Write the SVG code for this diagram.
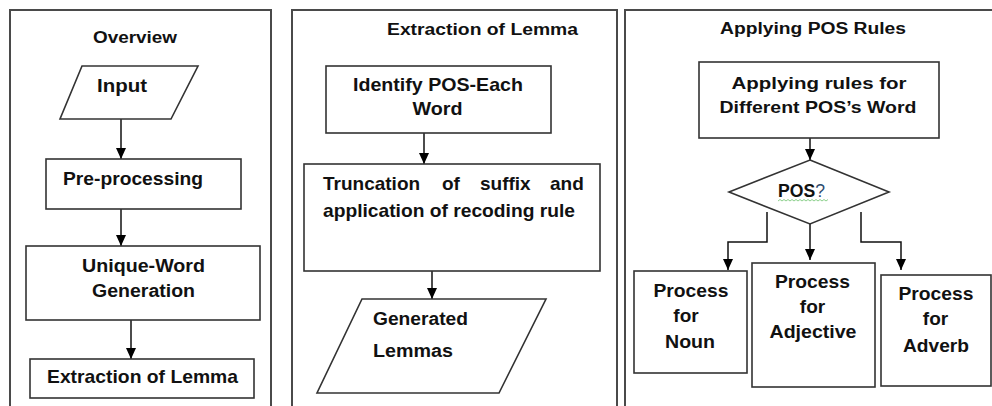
<svg xmlns="http://www.w3.org/2000/svg" width="992" height="406" viewBox="0 0 992 406">
<style>
  .frame{fill:none;stroke:#4a4a4a;stroke-width:2}
  .box{fill:#fff;stroke:#333;stroke-width:1.6}
  .t{font-family:"Liberation Sans",Arial,sans-serif;font-weight:bold;fill:#111;}
  .c{text-anchor:middle}
  .con{fill:none;stroke:#111;stroke-width:1.5}
</style>
<defs>
  <marker id="ah" markerUnits="userSpaceOnUse" markerWidth="12" markerHeight="12" refX="11" refY="5" orient="auto">
    <path d="M0,0 L11,5 L0,10 z" fill="#000"/>
  </marker>
</defs>
<rect width="992" height="406" fill="#fff"/>

<g id="panels">
  <path class="frame" d="M10,406 V10 H271 V406"/>
  <path class="frame" d="M292,406 V10 H617 V406"/>
  <path class="frame" d="M625,406 V10 H992"/>
  <text class="t c" x="135" y="43" font-size="17" textLength="84" lengthAdjust="spacingAndGlyphs">Overview</text>
  <text class="t c" x="482.5" y="35" font-size="16" textLength="191" lengthAdjust="spacingAndGlyphs">Extraction of Lemma</text>
  <text class="t c" x="813" y="34" font-size="16" textLength="186" lengthAdjust="spacingAndGlyphs">Applying POS Rules</text>
</g>

<g id="connectors">
  <path class="con" d="M121,119 V159" marker-end="url(#ah)"/>
  <path class="con" d="M121,209 V246" marker-end="url(#ah)"/>
  <path class="con" d="M131,320 V359" marker-end="url(#ah)"/>
  <path class="con" d="M424,133 V164" marker-end="url(#ah)"/>
  <path class="con" d="M432,271 V299" marker-end="url(#ah)"/>
  <path class="con" d="M810,138 V160" marker-end="url(#ah)"/>
  <path class="con" d="M767,212 V242 H728 V270" marker-end="url(#ah)"/>
  <path class="con" d="M810,224 V260" marker-end="url(#ah)"/>
  <path class="con" d="M861,212 V242 H901 V270" marker-end="url(#ah)"/>
</g>

<g id="input">
  <polygon class="box" points="82,66 198,66 171,119 60,119"/>
  <text class="t" x="97" y="92" font-size="19" textLength="50" lengthAdjust="spacingAndGlyphs">Input</text>
</g>
<g id="preprocessing">
  <rect class="box" x="46" y="159" width="195" height="50"/>
  <text class="t" x="63" y="185" font-size="19" textLength="140" lengthAdjust="spacingAndGlyphs">Pre-processing</text>
</g>
<g id="unique-word">
  <rect class="box" x="26" y="246" width="234" height="74"/>
  <text class="t c" x="143.5" y="272" font-size="18" textLength="123" lengthAdjust="spacingAndGlyphs">Unique-Word</text>
  <text class="t c" x="143.5" y="297" font-size="18" textLength="103" lengthAdjust="spacingAndGlyphs">Generation</text>
</g>
<g id="extraction">
  <rect class="box" x="30" y="359" width="224" height="39"/>
  <text class="t" x="47" y="383" font-size="19" textLength="191" lengthAdjust="spacingAndGlyphs">Extraction of Lemma</text>
</g>

<g id="identify-pos">
  <rect class="box" x="326" y="66" width="225" height="67"/>
  <text class="t c" x="438" y="91" font-size="19" textLength="170" lengthAdjust="spacingAndGlyphs">Identify POS-Each</text>
  <text class="t c" x="437.5" y="115" font-size="19" textLength="50" lengthAdjust="spacingAndGlyphs">Word</text>
</g>
<g id="truncation">
  <rect class="box" x="304" y="164" width="296" height="107"/>
  <text class="t" y="190" font-size="19"><tspan x="323">Truncation</tspan><tspan x="442">of</tspan><tspan x="480">suffix</tspan><tspan x="550">and</tspan></text>
  <text class="t" x="323" y="217" font-size="19" textLength="252" lengthAdjust="spacingAndGlyphs">application of recoding rule</text>
</g>
<g id="generated-lemmas">
  <polygon class="box" points="362,299 546,299 499,393 317,393"/>
  <text class="t" x="373" y="325" font-size="18" textLength="95" lengthAdjust="spacingAndGlyphs">Generated</text>
  <text class="t" x="373" y="357" font-size="18" textLength="80" lengthAdjust="spacingAndGlyphs">Lemmas</text>
</g>

<g id="applying-rules">
  <rect class="box" x="699" y="62" width="240" height="76"/>
  <text class="t c" x="819" y="89" font-size="17" textLength="175" lengthAdjust="spacingAndGlyphs">Applying rules for</text>
  <text class="t c" x="818" y="113" font-size="17" textLength="197" lengthAdjust="spacingAndGlyphs">Different POS’s Word</text>
</g>
<g id="pos-decision">
  <polygon class="box" points="810,160 889,192 810,224 729,192"/>
  <polyline points="778,201 780,199.5 782,201 784,199.5 786,201 788,199.5 790,201 792,199.5 794,201 796,199.5 798,201 800,199.5 802,201 804,199.5 806,201 808,199.5 810,201 812,199.5 814,201 816,199.5 818,201 820,199.5 822,201 824,199.5 826,201 828,199.5" fill="none" stroke="#8ccf8c" stroke-width="1"/>
  <text class="t" x="778" y="197" font-size="18" textLength="47" lengthAdjust="spacingAndGlyphs">POS<tspan fill="#2e4c70" font-weight="normal">?</tspan></text>
</g>
<g id="noun">
  <rect class="box" x="634" y="271" width="113" height="102"/>
  <text class="t c" x="691" y="297" font-size="19" textLength="75" lengthAdjust="spacingAndGlyphs">Process</text>
  <text class="t c" x="686" y="322" font-size="19">for</text>
  <text class="t c" x="690" y="348" font-size="19" textLength="50" lengthAdjust="spacingAndGlyphs">Noun</text>
</g>
<g id="adjective">
  <rect class="box" x="752" y="263" width="123" height="124"/>
  <text class="t c" x="812.5" y="288" font-size="19" textLength="75" lengthAdjust="spacingAndGlyphs">Process</text>
  <text class="t c" x="812.5" y="313" font-size="19">for</text>
  <text class="t c" x="813" y="338" font-size="19" textLength="87" lengthAdjust="spacingAndGlyphs">Adjective</text>
</g>
<g id="adverb">
  <rect class="box" x="881" y="275" width="110" height="111"/>
  <text class="t c" x="936" y="300" font-size="19" textLength="75" lengthAdjust="spacingAndGlyphs">Process</text>
  <text class="t c" x="935.5" y="325" font-size="19">for</text>
  <text class="t c" x="936" y="352" font-size="19" textLength="66" lengthAdjust="spacingAndGlyphs">Adverb</text>
</g>
</svg>
